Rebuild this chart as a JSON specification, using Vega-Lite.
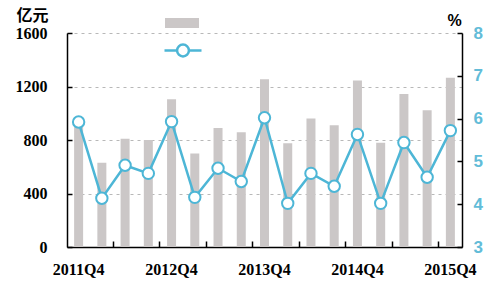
{
  "$schema": "https://vega.github.io/schema/vega-lite/v6.json",
  "width": 395,
  "height": 214,
  "autosize": {"type": "none"},
  "padding": {"left": 67, "top": 33, "right": 38, "bottom": 42},
  "background": "white",
  "config": {
    "view": {"stroke": null},
    "axis": {"domainColor": "black", "domainWidth": 1.5, "tickColor": "black", "tickWidth": 1.5}
  },
  "data": {
    "values": [
      {"q": "2011Q4", "amt": 900, "rate": 5.92},
      {"q": "2012Q1", "amt": 630, "rate": 4.14},
      {"q": "2012Q2", "amt": 810, "rate": 4.91},
      {"q": "2012Q3", "amt": 800, "rate": 4.72},
      {"q": "2012Q4", "amt": 1105, "rate": 5.93},
      {"q": "2013Q1", "amt": 700, "rate": 4.16},
      {"q": "2013Q2", "amt": 890, "rate": 4.84},
      {"q": "2013Q3", "amt": 858, "rate": 4.53},
      {"q": "2013Q4", "amt": 1255, "rate": 6.02},
      {"q": "2014Q1", "amt": 775, "rate": 4.02},
      {"q": "2014Q2", "amt": 960, "rate": 4.72},
      {"q": "2014Q3", "amt": 910, "rate": 4.42},
      {"q": "2014Q4", "amt": 1245, "rate": 5.63},
      {"q": "2015Q1", "amt": 780, "rate": 4.02},
      {"q": "2015Q2", "amt": 1143, "rate": 5.44},
      {"q": "2015Q3", "amt": 1022, "rate": 4.63},
      {"q": "2015Q4", "amt": 1265, "rate": 5.72}
    ]
  },
  "layer": [
    {
      "mark": {"type": "bar", "width": 9},
      "encoding": {
        "x": {
          "field": "q", "type": "nominal", "sort": null,
          "scale": {"paddingInner": 0, "paddingOuter": 0},
          "axis": {
            "orient": "bottom", "title": null,
            "values": ["2011Q4", "2012Q4", "2013Q4", "2014Q4", "2015Q4"],
            "ticks": false, "labelAngle": 0, "labelPadding": 14,
            "labelFont": "Liberation Serif", "labelFontWeight": "bold", "labelFontSize": 16, "labelColor": "black"
          }
        },
        "y": {
          "field": "amt", "type": "quantitative",
          "scale": {"domain": [0, 1600], "nice": false},
          "axis": {
            "orient": "left", "values": [0, 400, 800, 1200, 1600], "format": "d",
            "tickSize": -5, "labelPadding": 25,
            "labelFont": "Liberation Serif", "labelFontWeight": "bold", "labelFontSize": 16, "labelColor": "black",
            "grid": true, "gridDash": [3, 4], "gridColor": "#b8b8b8", "gridWidth": 1,
            "title": "亿元", "titleAngle": 0, "titleX": -35, "titleY": -18,
            "titleAlign": "center", "titleBaseline": "middle",
            "titleFont": "Noto Sans CJK SC", "titleFontWeight": "bold", "titleFontSize": 16, "titleColor": "black"
          }
        },
        "fill": {
          "datum": "金额", "type": "nominal",
          "scale": {"range": ["#CBC7C7"]},
          "legend": {
            "orient": "none", "legendX": 98, "legendY": -27, "title": null, "padding": 0,
            "symbolType": "M-1,-0.29H1V0.29H-1Z", "symbolSize": 1156, "symbolStrokeWidth": 0,
            "labelExpr": "''"
          }
        }
      }
    },
    {
      "encoding": {
        "x": {
          "field": "q", "type": "nominal", "sort": null,
          "axis": {
            "orient": "bottom", "title": null,
            "values": ["2012Q2", "2012Q4", "2013Q2", "2013Q4", "2014Q2", "2014Q4", "2015Q2", "2015Q4"],
            "bandPosition": 0, "labels": false, "domain": false, "tickSize": -6
          }
        },
        "y": {
          "field": "rate", "type": "quantitative",
          "scale": {"domain": [3, 8], "nice": false, "zero": false},
          "axis": {
            "orient": "right", "values": [3, 4, 5, 6, 7, 8],
            "tickSize": -5, "labelPadding": 16, "grid": false,
            "labelFont": "Liberation Sans", "labelFontWeight": "bold", "labelFontSize": 17, "labelColor": "#62BCD8",
            "title": "%", "titleAngle": 0, "titleX": -8, "titleY": -13,
            "titleAlign": "center", "titleBaseline": "middle",
            "titleFont": "Liberation Sans", "titleFontWeight": "bold", "titleFontSize": 16, "titleColor": "black"
          }
        }
      },
      "layer": [
        {
          "mark": {"type": "line", "strokeWidth": 2.5},
          "encoding": {
            "stroke": {
              "datum": "增速", "type": "nominal",
              "scale": {"range": ["#4DB6D6"]},
              "legend": {
                "orient": "none", "legendX": 96, "legendY": -2.5, "title": null, "padding": 0,
                "symbolType": "M-1,0H-0.32M0.32,0H1M-0.32,0A0.32,0.32,0,1,1,0.32,0A0.32,0.32,0,1,1,-0.32,0Z",
                "symbolSize": 1369, "symbolStrokeWidth": 2.5, "symbolFillColor": "white",
                "labelExpr": "''"
              }
            }
          }
        },
        {
          "mark": {"type": "point", "filled": true, "fill": "white", "stroke": "#4DB6D6", "strokeWidth": 2, "size": 130, "opacity": 1}
        }
      ]
    }
  ],
  "resolve": {"scale": {"y": "independent"}, "axis": {"x": "independent", "y": "independent"}}
}
